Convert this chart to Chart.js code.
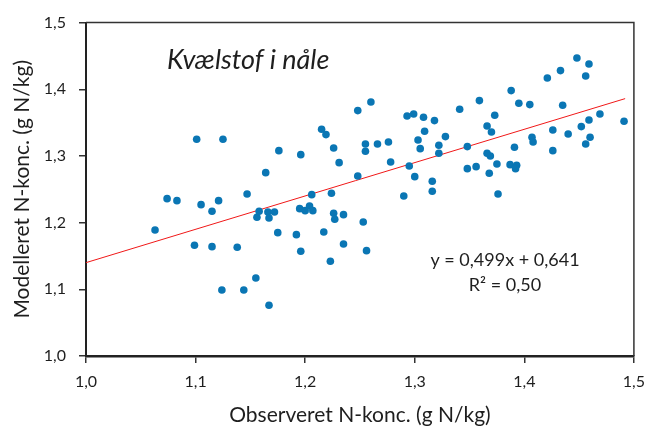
<!DOCTYPE html>
<html>
<head>
<meta charset="utf-8">
<script src="https://cdn.jsdelivr.net/npm/chart.js@4/dist/chart.umd.min.js"></script>
<style>
  html, body { margin: 0; padding: 0; background: #fff; }
  #wrap { width: 654px; height: 428px; }
</style>
</head>
<body>
<div id="wrap"><canvas id="myChart" width="654" height="428"></canvas></div>
<script>
// Set Data
const observeret = [
  1.248, 1.101, 1.125, 1.215, 1.219, 1.176, 1.196, 1.226, 1.231, 1.164,
  1.248, 1.260, 1.293, 1.299, 1.308, 1.318, 1.309, 1.303, 1.305, 1.255,
  1.255, 1.266, 1.276, 1.278, 1.295, 1.300, 1.316, 1.322, 1.322, 1.328,
  1.341, 1.359, 1.348, 1.348, 1.356, 1.366, 1.370, 1.373, 1.366, 1.369,
  1.375, 1.368, 1.388, 1.395, 1.405, 1.391, 1.387, 1.393, 1.392, 1.407,
  1.408, 1.421, 1.433, 1.435, 1.426, 1.426, 1.440, 1.448, 1.459, 1.456,
  1.452, 1.459, 1.469, 1.456, 1.460, 1.491, 1.063, 1.074, 1.083, 1.099,
  1.105, 1.115, 1.121, 1.115, 1.124, 1.138, 1.144, 1.147, 1.155, 1.156,
  1.158, 1.166, 1.167, 1.172, 1.167, 1.175, 1.192, 1.196, 1.195, 1.200,
  1.204, 1.207, 1.206, 1.217, 1.223, 1.224, 1.226, 1.227, 1.235, 1.235,
  1.253, 1.256, 1.290, 1.316, 1.376,
];
const modelleret = [
  1.368, 1.325, 1.325, 1.340, 1.332, 1.308, 1.302, 1.312, 1.290, 1.275,
  1.270, 1.381, 1.360, 1.363, 1.358, 1.353, 1.337, 1.324, 1.311, 1.318,
  1.307, 1.318, 1.321, 1.291, 1.285, 1.269, 1.262, 1.316, 1.304, 1.329,
  1.370, 1.383, 1.314, 1.281, 1.284, 1.345, 1.336, 1.361, 1.304, 1.300,
  1.288, 1.274, 1.398, 1.379, 1.377, 1.313, 1.287, 1.286, 1.281, 1.328,
  1.321, 1.417, 1.428, 1.376, 1.339, 1.308, 1.333, 1.447, 1.438, 1.420,
  1.344, 1.354, 1.363, 1.318, 1.328, 1.352, 1.189, 1.236, 1.233, 1.166,
  1.227, 1.217, 1.233, 1.164, 1.099, 1.163, 1.099, 1.243, 1.117, 1.208,
  1.217, 1.216, 1.207, 1.216, 1.076, 1.185, 1.182, 1.157, 1.221, 1.218,
  1.225, 1.218, 1.242, 1.186, 1.142, 1.244, 1.214, 1.205, 1.212, 1.168,
  1.201, 1.158, 1.240, 1.247, 1.243,
];
// trendline endpoints (y = 0,499x + 0,641)
const trendX = [1.0, 1.492];
const trendY = [1.140, 1.386];
const tickValues = [1.0, 1.1, 1.2, 1.3, 1.4, 1.5];

const fontName = "Lato, 'Open Sans', sans-serif";
const textColor = "#1e1e1e";
const dotColor = "#0a76b4";

function komma(v) {
  return v.toFixed(1).replace(".", ",");
}

// ----------------------Ramme og tekst-----------------------
const rammePlugin = {
  id: "ramme",
  afterDraw(chart) {
    const ctx = chart.ctx;
    const a = chart.chartArea;
    ctx.save();
    ctx.strokeStyle = "#333";
    ctx.lineWidth = 1.5;
    ctx.beginPath();
    ctx.moveTo(a.left, a.top);
    ctx.lineTo(a.right, a.top);
    ctx.lineTo(a.right, a.bottom);
    ctx.stroke();

    ctx.fillStyle = textColor;
    ctx.textBaseline = "alphabetic";
    ctx.textAlign = "left";
    ctx.font = "italic 27px " + fontName;
    ctx.fillText("Kvælstof i nåle", 167, 69);

    ctx.textAlign = "center";
    ctx.font = "18px " + fontName;
    ctx.fillText("y = 0,499x + 0,641", 505, 266);
    ctx.fillText("R² = 0,50", 505, 291);
    ctx.restore();
  },
};

// ----------------------Scatter Chart-----------------------
new Chart("myChart", {
  type: "scatter",
  data: {
    datasets: [
      {
        data: observeret.map((x, i) => ({ x: x, y: modelleret[i] })),
        backgroundColor: dotColor,
        borderColor: dotColor,
        pointRadius: 3.8,
        pointHoverRadius: 3.8,
        borderWidth: 0,
      },
      {
        type: "line",
        data: trendX.map((x, i) => ({ x: x, y: trendY[i] })),
        borderColor: "#f01818",
        borderWidth: 1,
        pointRadius: 0,
        fill: false,
      },
    ],
  },
  options: {
    responsive: false,
    animation: false,
    events: [],
    layout: { padding: { left: 0, right: 13, top: 19, bottom: 0 } },
    plugins: {
      legend: { display: false },
      tooltip: { enabled: false },
    },
    scales: {
      x: {
        type: "linear",
        min: 1.0,
        max: 1.5,
        afterBuildTicks: (s) => {
          s.ticks = tickValues.map((v) => ({ value: v }));
        },
        afterFit: (s) => {
          s.height = 72;
        },
        ticks: {
          callback: komma,
          color: textColor,
          font: { family: fontName, size: 16 },
          padding: 9,
          maxRotation: 0,
        },
        grid: {
          drawOnChartArea: false,
          drawTicks: true,
          tickLength: 7,
          color: "#333",
          lineWidth: 1.5,
        },
        border: { color: "#222", width: 2.5 },
        title: {
          display: true,
          text: "Observeret N-konc. (g N/kg)",
          color: textColor,
          font: { family: fontName, size: 21 },
          padding: { top: 0, bottom: 0 },
        },
      },
      y: {
        type: "linear",
        min: 1.0,
        max: 1.5,
        afterBuildTicks: (s) => {
          s.ticks = tickValues.map((v) => ({ value: v }));
        },
        afterFit: (s) => {
          s.width = 86;
        },
        ticks: {
          callback: komma,
          color: textColor,
          font: { family: fontName, size: 16 },
          padding: 13,
        },
        grid: {
          drawOnChartArea: false,
          drawTicks: true,
          tickLength: 7,
          color: "#333",
          lineWidth: 1.5,
        },
        border: { color: "#222", width: 2 },
        title: {
          display: true,
          text: "Modelleret N-konc. (g N/kg)",
          color: textColor,
          font: { family: fontName, size: 21 },
          padding: { top: 10, bottom: 0 },
        },
      },
    },
  },
  plugins: [rammePlugin],
});
</script>
</body>
</html>
